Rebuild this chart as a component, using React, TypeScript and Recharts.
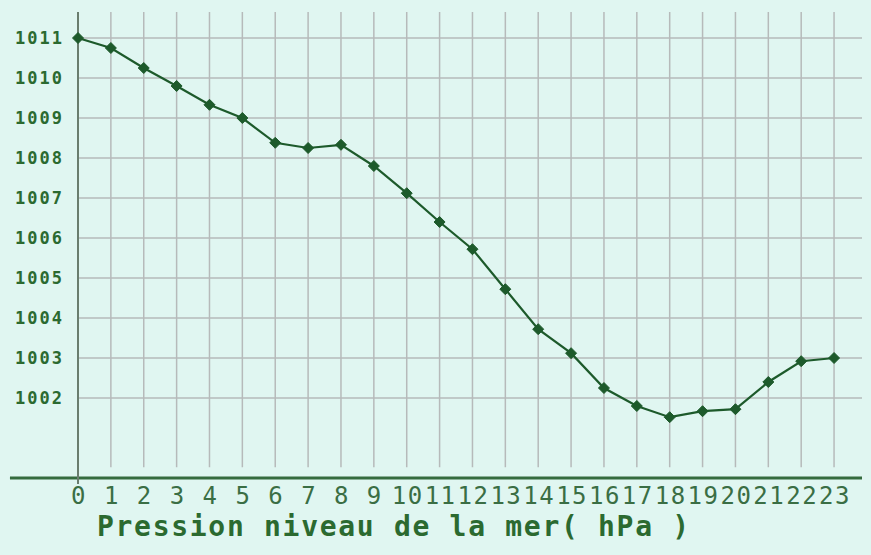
import { Label, Line, LineChart, ReferenceLine, XAxis, YAxis } from "recharts";

const hours = [0, 1, 2, 3, 4, 5, 6, 7, 8, 9, 10, 11, 12, 13, 14, 15, 16, 17, 18, 19, 20, 21, 22, 23];
const pressure = [
  1011.0, 1010.75, 1010.25, 1009.8, 1009.33, 1009.0, 1008.38, 1008.25, 1008.33, 1007.8, 1007.12, 1006.4,
  1005.72, 1004.72, 1003.72, 1003.12, 1002.25, 1001.8, 1001.52, 1001.67, 1001.72, 1002.4, 1002.92, 1003.0,
];
const yTicks = [1002, 1003, 1004, 1005, 1006, 1007, 1008, 1009, 1010, 1011];
const title = "Pression niveau de la mer( hPa )";

const data = hours.map((h, i) => ({ hour: h, value: pressure[i] }));

const BG = "#e0f6f1";
const GRID = "#b6baba";
const LINE = "#1d5a2b";
const TEXT = "#2b6a30";

const Diamond = (props: any) => {
  const { cx, cy } = props;
  if (cx == null || cy == null) return null;
  const r = 5.5;
  return (
    <polygon
      points={`${cx},${cy - r} ${cx + r},${cy} ${cx},${cy + r} ${cx - r},${cy}`}
      fill={LINE}
      stroke={LINE}
      strokeWidth={1}
    />
  );
};

const XTick = (props: any) => {
  const { x, y, payload } = props;
  return (
    <text
      x={x + 1}
      y={y + 18}
      textAnchor="middle"
      fontFamily="DejaVu Sans Mono"
      fontSize={24}
      letterSpacing={1.5}
      fill="#3a6e44"
    >
      {payload.value}
    </text>
  );
};

const YTick = (props: any) => {
  const { x, y, payload } = props;
  return (
    <text
      x={x}
      y={y + 6}
      textAnchor="end"
      fontFamily="DejaVu Sans Mono"
      fontWeight="bold"
      fontSize={17}
      letterSpacing={2}
      fill={TEXT}
    >
      {payload.value}
    </text>
  );
};

const Title = (props: any) => {
  const { viewBox } = props;
  return (
    <text
      x={viewBox.x + 19}
      y={viewBox.y + 58}
      fontFamily="DejaVu Sans Mono"
      fontWeight="bold"
      fontSize={28}
      letterSpacing={1.7}
      fill={TEXT}
    >
      {title}
    </text>
  );
};

export default function App() {
  return (
    <div style={{ position: "fixed", left: 0, top: 0, width: 871, height: 555, background: BG }}>
      <LineChart width={871} height={555} data={data} margin={{ top: 12, right: 9, bottom: 0, left: 0 }}>
        {yTicks.map((v) => (
          <ReferenceLine
            key={`h${v}`}
            segment={[
              { x: 0, y: v },
              { x: 23.85, y: v },
            ]}
            stroke={GRID}
            strokeWidth={1.5}
          />
        ))}
        {hours.slice(1).map((h) => (
          <ReferenceLine
            key={`v${h}`}
            segment={[
              { x: h, y: 1000.27 },
              { x: h, y: 1011.65 },
            ]}
            stroke={GRID}
            strokeWidth={1.5}
          />
        ))}
        <XAxis
          dataKey="hour"
          type="number"
          domain={[0, 23.85]}
          ticks={hours}
          interval={0}
          height={77}
          axisLine={false}
          tickLine={false}
          tick={<XTick />}
        >
          <Label content={<Title />} />
        </XAxis>
        <YAxis
          type="number"
          domain={[1000, 1011.65]}
          ticks={yTicks}
          width={78}
          axisLine={false}
          tickLine={false}
          tick={<YTick />}
          tickMargin={8}
        />
        <ReferenceLine
          segment={[
            { x: -2.07, y: 1000 },
            { x: 23.85, y: 1000 },
          ]}
          ifOverflow="visible"
          stroke="#356b3e"
          strokeWidth={3}
        />
        <ReferenceLine
          segment={[
            { x: 0, y: 999.85 },
            { x: 0, y: 1011.65 },
          ]}
          ifOverflow="visible"
          stroke="#6a7d6e"
          strokeWidth={2}
        />
        <Line
          dataKey="value"
          type="linear"
          stroke={LINE}
          strokeWidth={2.2}
          dot={<Diamond />}
          activeDot={false}
          isAnimationActive={false}
        />
      </LineChart>
    </div>
  );
}
